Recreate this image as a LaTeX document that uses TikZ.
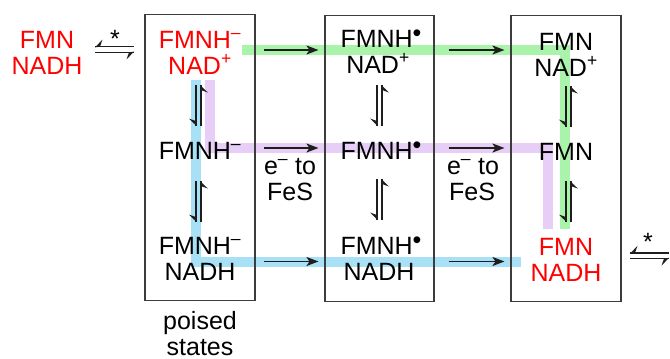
\documentclass[tikz,border=0pt]{standalone}
\usepackage{fontspec}
\setmainfont{Liberation Sans}
\usetikzlibrary{arrows.meta,calc}
\definecolor{bandgreen}{RGB}{170,243,170}
\definecolor{bandblue}{RGB}{168,224,246}
\definecolor{bandpurple}{RGB}{231,206,246}
\definecolor{boxgray}{RGB}{60,60,60}
\definecolor{txtred}{RGB}{255,0,0}
\definecolor{inkgray}{RGB}{30,30,30}
\newcommand\supm{\textsuperscript{–}}
\newcommand\supp{\textsuperscript{+}}
\newcommand\rad{\raisebox{5.5pt}{•}}
% vertical equilibrium: #1 top end, #2 bottom end
\newcommand\eqvert[2]{%
  \draw[eqline] ($(#1)+(-2.5,0)$) -- ($(#2)+(-2.5,0)$);
  \fill[inkgray] ($(#2)+(-1.7,0)$) -- ($(#2)+(-9.5,-7.5)$) -- ($(#2)+(-2.5,-5)$) -- cycle;
  \draw[eqline] ($(#2)+(2.5,0)$) -- ($(#1)+(2.5,0)$);
  \fill[inkgray] ($(#1)+(1.7,0)$) -- ($(#1)+(9.5,7.5)$) -- ($(#1)+(2.5,5)$) -- cycle;}
% horizontal equilibrium: #1 left end, #2 right end
\newcommand\eqhorz[2]{%
  \draw[eqline] ($(#2)+(0,-2.9)$) -- ($(#1)+(0,-2.9)$);
  \fill[inkgray] ($(#1)+(0,-2.1)$) -- ($(#1)+(7.5,-9.9)$) -- ($(#1)+(5,-2.9)$) -- cycle;
  \draw[eqline] ($(#1)+(0,2.9)$) -- ($(#2)+(0,2.9)$);
  \fill[inkgray] ($(#2)+(0,2.1)$) -- ($(#2)+(-7.5,9.9)$) -- ($(#2)+(-5,2.9)$) -- cycle;}
\begin{document}
\begin{tikzpicture}[x=1pt,y=-1pt,
  lbl/.style={font=\fontsize{25}{26}\selectfont, inner sep=0pt, anchor=base},
  redlbl/.style={lbl, text=txtred},
  statebox/.style={draw=boxgray, line width=1.1pt, minimum width=110pt, minimum height=286.5pt, inner sep=0pt},
  band/.style={line width=10pt, line join=miter, line cap=butt},
  rxn/.style={draw=inkgray, line width=1.6pt, -{Stealth[length=12pt,width=9pt,inset=3pt]}},
  eqline/.style={draw=inkgray, line width=1.6pt, line cap=butt},
]
\useasboundingbox (0,0) rectangle (670,359);

% highlighted pathways
\draw[band, bandgreen] (242,50) -- (565,50) -- (565,229);
\draw[band, bandblue] (196,80) -- (196,261.5) -- (521,261.5);
\draw[band, bandpurple] (210,80) -- (210,148) -- (548,148) -- (548,229);

% state boxes
\node[statebox] (b1) at (200,157.5) {};
\node[statebox, minimum width=109pt] (b2) at (379.5,158.5) {};
\node[statebox] (b3) at (566,158.5) {};

% texts
\node[redlbl] (l1) at (47,48) {FMN};
\node[redlbl] (l2) at (47,74) {NADH};

\node[redlbl] (a1) at (200,48) {FMNH\supm};
\node[redlbl] (a2) at (200,74) {NAD\supp};
\node[lbl] (a3) at (381,47) {FMNH\rad};
\node[lbl] (a4) at (378,73) {NAD\supp};
\node[lbl] (a5) at (566,50) {FMN};
\node[lbl] (a6) at (566,76) {NAD\supp};

\node[lbl] (m1) at (200,159) {FMNH\supm};
\node[lbl] (m2) at (381,159) {FMNH\rad};
\node[lbl] (m3) at (566,160) {FMN};

\node[lbl] (c1) at (200,254) {FMNH\supm};
\node[lbl] (c2) at (200,280) {NADH};
\node[lbl] (c3) at (381,254) {FMNH\rad};
\node[lbl] (c4) at (379,280) {NADH};
\node[redlbl] (c5) at (566,255) {FMN};
\node[redlbl] (c6) at (566,281) {NADH};

\node[lbl] (fe1) at (290,174) {e\supm{} to};
\node[lbl] (fe2) at (290,200) {FeS};
\node[lbl] (fe3) at (473,174) {e\supm{} to};
\node[lbl] (fe4) at (472,200) {FeS};

\node[lbl] (p1) at (200,329) {poised};
\node[lbl] (p2) at (200,355) {states};

\node[lbl] (st1) at (115,47) {*};
\node[lbl] (st2) at (648,250) {*};

% rows of forward steps
\coordinate (r1) at (0,50);
\coordinate (r2) at (0,148);
\coordinate (r3) at (0,261.5);
\foreach \r in {r1,r2,r3}{
  \draw[rxn, shorten <=8pt, shorten >=6pt] (b1.east |- \r) -- (b2.west |- \r);
  \draw[rxn, shorten <=14pt, shorten >=6pt] (b2.east |- \r) -- (b3.west |- \r);
}

% vertical equilibria
\coordinate (u1t) at (198.3,85);  \coordinate (u1b) at (198.3,126);
\coordinate (u2t) at (379.5,85);  \coordinate (u2b) at (379.5,126);
\coordinate (u3t) at (568.3,86);  \coordinate (u3b) at (568.3,127);
\coordinate (d1t) at (198.3,181); \coordinate (d1b) at (198.3,222);
\coordinate (d2t) at (379.5,179); \coordinate (d2b) at (379.5,220);
\coordinate (d3t) at (568.3,181); \coordinate (d3b) at (568.3,222);
\eqvert{u1t}{u1b}
\eqvert{u2t}{u2b}
\eqvert{u3t}{u3b}
\eqvert{d1t}{d1b}
\eqvert{d2t}{d2b}
\eqvert{d3t}{d3b}

% horizontal equilibria (*)
\coordinate (hl1) at (95,49.5);  \coordinate (hl2) at (134,49.5);
\coordinate (hr1) at (630,255.75); \coordinate (hr2) at (669,255.75);
\eqhorz{hl1}{hl2}
\eqhorz{hr1}{hr2}
\end{tikzpicture}
\end{document}
